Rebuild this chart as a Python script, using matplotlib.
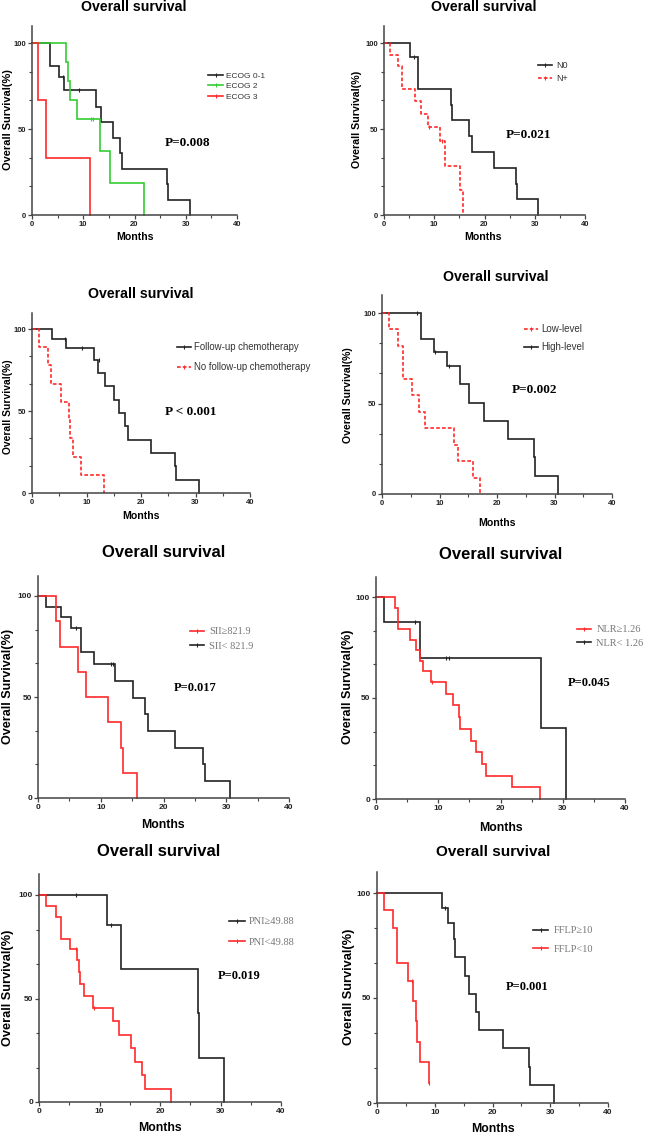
import matplotlib
matplotlib.use("Agg")
import matplotlib.pyplot as plt
from matplotlib.lines import Line2D
from matplotlib.ticker import FixedLocator

W, H = 649, 1136
fig = plt.figure(figsize=(W / 100, H / 100), dpi=100)

BLACK = "#222222"
RED = "#ff2a2a"
GREEN = "#33cc33"
DASH = (0, (2.2, 1.3))
LW = 1.2

# ---------------- data ----------------
# Panel 1: ECOG
ecog01_t = [0, 3.6, 5.2, 6.2, 12.4, 13.4, 15.8, 17.1, 17.6, 26.3, 26.5, 30.8]
ecog01_s = [100, 86.7, 80.0, 72.5, 63.0, 54.0, 45.0, 36.0, 27.0, 18.0, 9.0, 0]
ecog01_ct = [6.0, 9.1]
ecog01_cs = [80.0, 72.5]
ecog2_t = [0, 6.7, 7.0, 7.5, 8.8, 13.2, 15.2, 21.9]
ecog2_s = [100, 88.9, 77.8, 66.7, 55.6, 37.0, 18.5, 0]
ecog2_ct = [11.5, 11.9]
ecog2_cs = [55.6, 55.6]
ecog3_t = [0, 1.2, 2.8, 11.3]
ecog3_s = [100, 66.7, 33.3, 0]

# Panel 2: N stage
n0_t = [0, 5.1, 6.7, 6.8, 13.3, 13.5, 17.0, 17.5, 21.8, 26.3, 26.5, 30.6]
n0_s = [100, 91.7, 82.5, 73.3, 64.2, 55.0, 45.8, 36.7, 27.5, 18.3, 9.2, 0]
n0_ct = [5.9]
n0_cs = [91.7]
np_t = [0, 1.1, 2.8, 3.6, 6.2, 7.4, 8.7, 11.2, 12.2, 15.2, 15.8]
np_s = [100, 93.3, 86.7, 73.3, 66.0, 58.7, 51.3, 42.8, 28.5, 14.3, 0]
np_ct = [8.9, 11.6]
np_cs = [51.3, 42.8]

# Panel 3: follow-up chemotherapy
fu_t = [0, 3.7, 6.3, 11.3, 12.1, 13.4, 15.1, 15.9, 17.1, 17.6, 21.9, 26.3, 26.4, 30.7]
fu_s = [100, 94.1, 88.2, 81.4, 73.3, 65.2, 57.0, 48.9, 40.7, 32.6, 24.4, 16.3, 8.1, 0]
fu_ct = [6.1, 9.1, 12.3]
fu_cs = [94.1, 88.2, 81.4]
nofu_t = [0, 1.3, 2.9, 3.5, 5.3, 6.7, 6.9, 7.5, 8.9, 13.3]
nofu_s = [100, 88.9, 77.8, 66.7, 55.6, 44.4, 33.3, 22.2, 11.1, 0]

# Panel 4: level
low_t = [0, 1.2, 2.8, 3.6, 5.3, 6.5, 7.5, 12.5, 13.3, 15.8, 17.1]
low_s = [100, 90.9, 81.8, 63.6, 54.5, 45.5, 36.4, 27.3, 18.2, 9.1, 0]
high_t = [0, 6.8, 9.0, 11.3, 13.5, 15.2, 17.7, 21.9, 26.4, 26.6, 30.6]
high_s = [100, 85.7, 78.6, 70.7, 60.6, 50.5, 40.4, 30.3, 20.2, 10.1, 0]
high_ct = [6.1, 9.2, 11.6]
high_cs = [100, 78.6, 70.7]

# Panel 5: SII
siihi_t = [0, 2.8, 3.5, 6.4, 7.6, 11.2, 13.2, 13.5, 15.8]
siihi_s = [100, 87.5, 75.0, 62.5, 50.0, 37.5, 25.0, 12.5, 0]
siilo_t = [0, 1.2, 3.6, 5.2, 6.8, 8.9, 12.2, 15.1, 17.1, 17.6, 21.8, 26.3, 26.6, 30.6]
siilo_s = [100, 94.7, 89.5, 84.2, 72.4, 66.3, 58.0, 49.7, 41.4, 33.1, 24.9, 16.6, 8.3, 0]
siilo_ct = [6.0, 11.6, 12.0]
siilo_cs = [84.2, 66.3, 66.3]

# Panel 6: NLR
nlrhi_t = [0, 3.05, 3.6, 5.4, 6.4, 7.1, 7.6, 8.9, 11.2, 12.4, 13.4, 13.5, 15.2, 16.1, 17.1, 17.7, 21.8, 26.3]
nlrhi_s = [100, 94.7, 84.2, 78.9, 73.7, 68.4, 63.2, 57.9, 52.1, 46.3, 40.5, 34.7, 28.9, 23.2, 17.4, 11.6, 5.8, 0]
nlrhi_ct = [9.0]
nlrhi_cs = [57.9]
nlrlo_t = [0, 1.3, 7.0, 26.5, 30.5]
nlrlo_s = [100, 87.5, 70.0, 35.0, 0]
nlrlo_ct = [6.2, 11.3, 11.8]
nlrlo_cs = [87.5, 70.0, 70.0]

# Panel 7: PNI
pnihi_t = [0, 11.3, 13.5, 26.3, 26.5, 30.6]
pnihi_s = [100, 85.7, 64.3, 42.9, 21.4, 0]
pnihi_ct = [6.1, 11.9]
pnihi_cs = [100, 85.7]
pnilo_t = [0, 1.1, 2.75, 3.6, 5.2, 6.3, 6.6, 6.8, 7.4, 8.9, 12.3, 13.3, 15.2, 15.8, 17.1, 17.6, 21.8]
pnilo_s = [100, 94.7, 89.5, 78.9, 73.7, 68.4, 62.6, 56.8, 51.1, 45.4, 38.9, 32.4, 25.9, 19.4, 13.0, 6.5, 0]
pnilo_ct = [6.1, 9.1]
pnilo_cs = [73.7, 45.4]

# Panel 8: FFLP
fflphi_t = [0, 11.25, 12.3, 13.3, 13.45, 15.2, 15.9, 17.2, 17.7, 21.8, 26.3, 26.55, 30.6]
fflphi_s = [100, 92.9, 85.7, 77.9, 69.3, 60.6, 51.9, 43.3, 34.6, 26.0, 17.3, 8.7, 0]
fflphi_ct = [11.8]
fflphi_cs = [92.9]
fflplo_t = [0, 1.2, 2.8, 3.5, 5.3, 6.2, 6.7, 6.9, 7.5, 9.0]
fflplo_s = [100, 91.7, 83.3, 66.7, 58.3, 48.6, 38.9, 29.2, 19.4, 9.7]
fflplo_ct = [6.0, 9.0]
fflplo_cs = [58.3, 9.7]

p_values = ["P=0.008", "P=0.021", "P < 0.001", "P=0.002", "P=0.017", "P=0.045", "P=0.019", "P=0.001"]

SANS = "Liberation Sans"
SERIF = ["Liberation Serif", "DejaVu Serif"]


def fx(x):
    return x / W


def fy(y):
    return 1 - y / H


def make_axes(x0, x40, y0, y100, tick_fs):
    y110 = y0 - 1.1 * (y0 - y100)
    ax = fig.add_axes([fx(x0), fy(y0), (x40 - x0) / W, (y0 - y110) / H])
    ax.set_xlim(0, 40)
    ax.set_ylim(0, 110)
    for s in ("top", "right"):
        ax.spines[s].set_visible(False)
    for s in ("left", "bottom"):
        ax.spines[s].set_color("#444444")
        ax.spines[s].set_linewidth(1.1)
    ax.xaxis.set_major_locator(FixedLocator([0, 10, 20, 30, 40]))
    ax.xaxis.set_minor_locator(FixedLocator([5, 15, 25, 35]))
    ax.yaxis.set_major_locator(FixedLocator([0, 50, 100]))
    ax.yaxis.set_minor_locator(FixedLocator([100 / 6, 200 / 6, 400 / 6, 500 / 6]))
    ax.tick_params(which="major", length=3, width=0.9, color="#444444", pad=1.2,
                   labelsize=tick_fs)
    ax.tick_params(which="minor", length=2, width=0.8, color="#444444")
    for lab in ax.get_xticklabels() + ax.get_yticklabels():
        lab.set_fontfamily(SANS)
        lab.set_fontweight("bold")
        lab.set_color("#222222")
    ax.patch.set_visible(False)
    return ax


def curve(ax, t, s, color, ls="-", ct=None, cs=None):
    ax.step(t, s, where="post", color=color, lw=LW, linestyle=ls, clip_on=False,
            solid_joinstyle="miter")
    if ct:
        ax.plot(ct, cs, linestyle="none", marker="|", markersize=3, mew=0.8,
                color=color, clip_on=False)


def texts(title_xy, title_fs, ylab_xy, ylab_fs, xlab_xy, xlab_fs, p_xy, p_fs, ptxt):
    fig.text(fx(title_xy[0]), fy(title_xy[1]), "Overall survival", ha="center", va="center",
             fontsize=title_fs, fontweight="bold", family=SANS)
    fig.text(fx(ylab_xy[0]), fy(ylab_xy[1]), "Overall Survival(%)", ha="center", va="center",
             rotation=90, fontsize=ylab_fs, fontweight="bold", family=SANS)
    fig.text(fx(xlab_xy[0]), fy(xlab_xy[1]), "Months", ha="center", va="center",
             fontsize=xlab_fs, fontweight="bold", family=SANS)
    fig.text(fx(p_xy[0]), fy(p_xy[1]), ptxt, ha="center", va="center",
             fontsize=p_fs, fontweight="bold", family=SERIF)


def legend(ax, handles, labels, x, y1, gap, fs, hl, htp, family, color):
    fs_px = fs * 100 / 72
    th = fs_px * 1.15
    ls = max((gap - th) / fs_px, 0)
    leg = ax.legend(handles, labels, loc="upper left",
                    bbox_to_anchor=(fx(x), fy(y1 - th / 2)), bbox_transform=fig.transFigure,
                    frameon=False, borderpad=0, borderaxespad=0, handlelength=hl,
                    handletextpad=htp, labelspacing=ls, numpoints=1,
                    prop={"family": family, "size": fs})
    for t in leg.get_texts():
        t.set_color(color)
    return leg


def h(color, ls="-"):
    return Line2D([], [], color=color, lw=LW, linestyle=ls, marker="|",
                  markersize=3, mew=0.8)


# ---------------- Panel 1 ----------------
ax = make_axes(32, 237, 215, 43, 5.5)
curve(ax, ecog01_t, ecog01_s, BLACK, ct=ecog01_ct, cs=ecog01_cs)
curve(ax, ecog2_t, ecog2_s, GREEN, ct=ecog2_ct, cs=ecog2_cs)
curve(ax, ecog3_t, ecog3_s, RED)
legend(ax, [h(BLACK), h(GREEN), h(RED)], ["ECOG 0-1", "ECOG 2", "ECOG 3"],
       208, 77, 12, 6, 1.8, 0.36, SANS, "#333333")
texts((134, 7), 10.2, (8, 120), 7.9, (135, 237), 7.6, (188, 143), 9.5, p_values[0])

# ---------------- Panel 2 ----------------
ax = make_axes(384, 585, 215, 43, 5.5)
curve(ax, n0_t, n0_s, BLACK, ct=n0_ct, cs=n0_cs)
curve(ax, np_t, np_s, RED, ls=DASH, ct=np_ct, cs=np_cs)
legend(ax, [h(BLACK), h(RED, DASH)], ["N0", "N+"],
       538, 66, 15, 6.5, 1.6, 0.4, SANS, "#333333")
texts((484, 7), 10.2, (357, 119), 7.7, (483, 237), 7.6, (528, 135), 9.5, p_values[1])

# ---------------- Panel 3 ----------------
ax = make_axes(32, 250, 493, 329, 5.5)
curve(ax, fu_t, fu_s, BLACK, ct=fu_ct, cs=fu_cs)
curve(ax, nofu_t, nofu_s, RED, ls=DASH)
legend(ax, [h(BLACK), h(RED, DASH)], ["Follow-up chemotherapy", "No follow-up chemotherapy"],
       177, 348, 21, 6.9, 1.45, 0.35, SANS, "#333333")
texts((141, 294), 10.2, (8, 407), 7.4, (141, 516), 7.6, (191, 412), 9.5, p_values[2])

# ---------------- Panel 4 ----------------
ax = make_axes(382, 612, 494, 313, 5.5)
curve(ax, high_t, high_s, BLACK, ct=high_ct, cs=high_cs)
curve(ax, low_t, low_s, RED, ls=DASH)
legend(ax, [h(RED, DASH), h(BLACK)], ["Low-level", "High-level"],
       524, 330, 19, 7, 1.45, 0.35, SANS, "#333333")
texts((496, 277), 10.2, (348, 395), 7.6, (497, 523), 7.6, (534, 390), 9.5, p_values[3])

# ---------------- Panel 5 ----------------
ax = make_axes(38, 289, 798, 596, 6)
curve(ax, siilo_t, siilo_s, BLACK, ct=siilo_ct, cs=siilo_cs)
curve(ax, siihi_t, siihi_s, RED)
legend(ax, [h(RED), h(BLACK)], ["SII≥821.9", "SII< 821.9"],
       190, 633, 17, 7.5, 1.35, 0.5, SERIF, "#777777")
texts((164, 553), 12, (8, 686), 9.1, (163, 825), 8.8, (195, 688), 9, p_values[4])

# ---------------- Panel 6 ----------------
ax = make_axes(376, 625, 799, 597, 6)
curve(ax, nlrlo_t, nlrlo_s, BLACK, ct=nlrlo_ct, cs=nlrlo_cs)
curve(ax, nlrhi_t, nlrhi_s, RED, ct=nlrhi_ct, cs=nlrhi_cs)
legend(ax, [h(RED), h(BLACK)], ["NLR≥1.26", "NLR< 1.26"],
       577, 631, 16, 7.5, 1.35, 0.5, SERIF, "#777777")
texts((501, 554), 12, (348, 687), 9, (501, 828), 8.8, (589, 683), 9, p_values[5])

# ---------------- Panel 7 ----------------
ax = make_axes(39, 281, 1102, 895, 6)
curve(ax, pnihi_t, pnihi_s, BLACK, ct=pnihi_ct, cs=pnihi_cs)
curve(ax, pnilo_t, pnilo_s, RED, ct=pnilo_ct, cs=pnilo_cs)
legend(ax, [h(BLACK), h(RED)], ["PNI≥49.88", "PNI<49.88"],
       229, 923, 23, 7.5, 1.55, 0.35, SERIF, "#777777")
texts((159, 852), 12, (8, 988), 9.2, (160, 1128), 8.8, (239, 976), 9, p_values[6])

# ---------------- Panel 8 ----------------
ax = make_axes(377, 608, 1103, 893, 6)
curve(ax, fflphi_t, fflphi_s, BLACK, ct=fflphi_ct, cs=fflphi_cs)
curve(ax, fflplo_t, fflplo_s, RED, ct=fflplo_ct, cs=fflplo_cs)
legend(ax, [h(BLACK), h(RED)], ["FFLP≥10", "FFLP<10"],
       533, 932, 21, 7.5, 1.45, 0.5, SERIF, "#777777")
texts((493, 852), 11, (349, 987), 9.2, (493, 1129), 8.8, (527, 987), 9, p_values[7])

fig.savefig("out.png", dpi=100)
